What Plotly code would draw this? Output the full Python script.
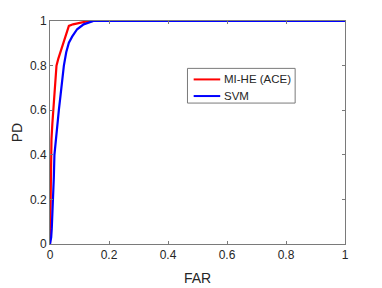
import plotly.graph_objects as go

far_mihe = [0, 0.001, 0.002, 0.003, 0.005, 0.008, 0.011, 0.016, 0.022, 0.028, 0.033, 0.04, 0.047, 0.058, 0.064, 0.078, 0.092, 0.12, 0.147, 1.0]
pd_mihe  = [0, 0.1, 0.25, 0.4, 0.47, 0.54, 0.6, 0.7, 0.8, 0.83, 0.85, 0.88, 0.91, 0.96, 0.978, 0.985, 0.99, 0.997, 1.0, 1.0]

far_svm = [0, 0.004, 0.006, 0.008, 0.01, 0.013, 0.015, 0.02, 0.025, 0.03, 0.036, 0.047, 0.055, 0.064, 0.075, 0.092, 0.114, 0.13, 0.147, 1.0]
pd_svm  = [0, 0.03, 0.07, 0.12, 0.2, 0.3, 0.4, 0.48, 0.55, 0.6, 0.67, 0.8, 0.86, 0.903, 0.93, 0.963, 0.985, 0.993, 1.0, 1.0]

tick_vals = [0, 0.2, 0.4, 0.6, 0.8, 1]
tick_labels = ["0", "0.2", "0.4", "0.6", "0.8", "1"]

series_names = ["MI-HE (ACE)", "SVM"]
series_colors = ["#ff0000", "#0000ff"]

FONT = "Liberation Sans, Arial, sans-serif"
TXT = "#262626"
AX = "#7a7a7a"

fig = go.Figure()
fig.add_trace(go.Scatter(x=far_mihe, y=pd_mihe, mode="lines", name=series_names[0],
                         line=dict(color=series_colors[0], width=2.2), showlegend=False))
fig.add_trace(go.Scatter(x=far_svm, y=pd_svm, mode="lines", name=series_names[1],
                         line=dict(color=series_colors[1], width=2.2), showlegend=False))

axis_common = dict(
    range=[0, 1], showgrid=False, zeroline=False, showline=True, mirror="ticks",
    linecolor=AX, linewidth=1, ticks="inside", ticklen=3, tickcolor=AX,
    tickfont=dict(family=FONT, size=12, color=TXT),
    tickvals=tick_vals, ticktext=tick_labels, automargin=False,
)

# custom legend (MATLAB style, compact)
leg_x0, leg_x1, leg_y0, leg_y1 = 0.466, 0.831, 0.632, 0.7875
row_y = [0.738, 0.6635]
shapes = [dict(type="rect", xref="paper", yref="paper", x0=leg_x0, x1=leg_x1, y0=leg_y0, y1=leg_y1,
               line=dict(color=AX, width=1), fillcolor="white", layer="above")]
annotations = []
for name, color, ry in zip(series_names, series_colors, row_y):
    shapes.append(dict(type="line", xref="paper", yref="paper", x0=0.487, x1=0.577, y0=ry, y1=ry,
                       line=dict(color=color, width=2), layer="above"))
    annotations.append(dict(xref="paper", yref="paper", x=0.584, y=ry, text=name, showarrow=False,
                            xanchor="left", yanchor="middle",
                            font=dict(family=FONT, size=11.5, color=TXT)))

fig.update_layout(
    width=382, height=288,
    margin=dict(l=41.5, r=45, t=12.5, b=52),
    paper_bgcolor="white", plot_bgcolor="white",
    font=dict(family=FONT, size=12, color=TXT),
    xaxis=dict(**axis_common, title=dict(text="FAR", font=dict(size=14, color=TXT), standoff=11)),
    yaxis=dict(**axis_common, title=dict(text="PD", font=dict(size=14, color=TXT), standoff=4)),
    shapes=shapes, annotations=annotations,
    showlegend=False,
)

fig.write_html("out.html")
